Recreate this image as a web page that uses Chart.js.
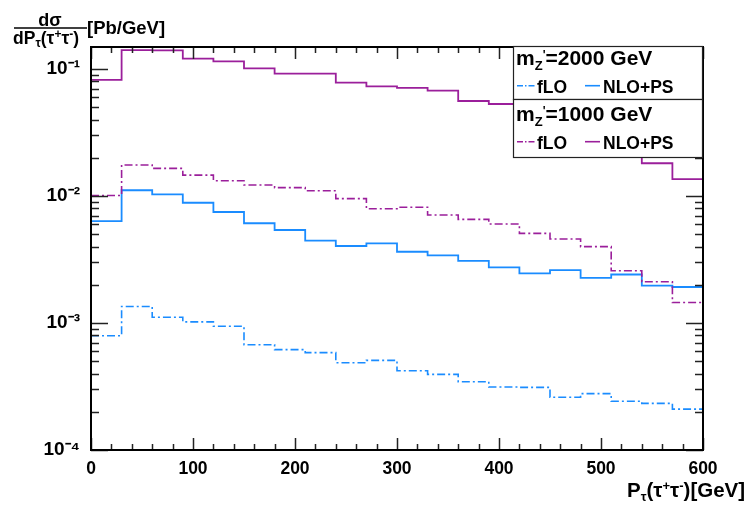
<!DOCTYPE html>
<html>
<head>
<meta charset="utf-8">
<script src="https://cdn.jsdelivr.net/npm/chart.js@4"></script>
<style>
  html, body { margin: 0; padding: 0; background: #fff; }
  #wrap { position: relative; width: 745px; height: 509px; overflow: hidden; }
  #c { position: absolute; left: 0; top: 0; }
  #ov { position: absolute; left: 0; top: 0; }
  svg text { font-family: "Liberation Sans", Arial, Helvetica, sans-serif; font-weight: bold; fill: #000; }
</style>
</head>
<body>
<div id="wrap">
<canvas id="c" width="745" height="509"></canvas>
<svg id="ov" width="745" height="509" xmlns="http://www.w3.org/2000/svg">
  <!-- y-axis title: d sigma / dP_tau(tau+ tau-) [Pb/GeV] -->
  <text x="50" y="25.5" font-size="18" text-anchor="middle">dσ</text>
  <line x1="14" y1="28" x2="87" y2="28" stroke="#000" stroke-width="1.6"/>
  <text x="13" y="44" font-size="17.5">dP<tspan font-size="12" dy="3">τ</tspan><tspan dy="-3">(τ</tspan><tspan font-size="12" dy="-6">+</tspan><tspan dy="6">τ</tspan><tspan font-size="12" dy="-6">-</tspan><tspan dy="6">)</tspan></text>
  <text x="87" y="34" font-size="18.5">[Pb/GeV]</text>
  <!-- x-axis title -->
  <text x="627" y="497" font-size="20.5">P<tspan font-size="13" dy="4">τ</tspan><tspan dy="-4">(τ</tspan><tspan font-size="13" dy="-7">+</tspan><tspan dy="7">τ</tspan><tspan font-size="13" dy="-7">-</tspan><tspan dy="7">)[GeV]</tspan></text>
  <!-- legend -->
  <rect x="513.5" y="46.5" width="189" height="53" fill="#fff" stroke="#222" stroke-width="1.2"/>
  <rect x="513.5" y="99.5" width="189" height="58" fill="#fff" stroke="#222" stroke-width="1.2"/>
  <text x="516" y="65" font-size="21">m<tspan font-size="13" dy="5">Z</tspan><tspan font-size="12" dy="-11">'</tspan><tspan dy="6">=2000 GeV</tspan></text>
  <line x1="517" y1="85.7" x2="535" y2="85.7" stroke="#1a8cff" stroke-width="1.6" stroke-dasharray="6,2,1.5,2"/>
  <text x="537" y="93" font-size="17.5">fLO</text>
  <line x1="585" y1="85.7" x2="600" y2="85.7" stroke="#1a8cff" stroke-width="1.6"/>
  <text x="603" y="93" font-size="17.5">NLO+PS</text>
  <text x="516" y="121" font-size="21">m<tspan font-size="13" dy="5">Z</tspan><tspan font-size="12" dy="-11">'</tspan><tspan dy="6">=1000 GeV</tspan></text>
  <line x1="517" y1="141.7" x2="535" y2="141.7" stroke="#9b1f9b" stroke-width="1.6" stroke-dasharray="6,2,1.5,2"/>
  <text x="537" y="148.5" font-size="17.5">fLO</text>
  <line x1="585" y1="141.7" x2="600" y2="141.7" stroke="#9b1f9b" stroke-width="1.6"/>
  <text x="603" y="148.5" font-size="17.5">NLO+PS</text>
</svg>
</div>
<script>
// ---- data (bin edges in GeV, 30 GeV bins) ----
const binEdges = [0, 30, 60, 90, 120, 150, 180, 210, 240, 270, 300, 330, 360, 390, 420, 450, 480, 510, 540, 570, 600];
const xTickValues = [0, 100, 200, 300, 400, 500, 600];
const yTickDecades = [-4, -3, -2, -1];

// m_Z' = 1000 GeV
const nlops1000 = [0.082, 0.141, 0.140, 0.1205, 0.115, 0.101, 0.092, 0.092, 0.078, 0.073, 0.071, 0.0675, 0.056, 0.053, 0.047, 0.041, 0.034, 0.027, 0.0181, 0.0136];
const flo1000 = [0.0101, 0.01755, 0.0165, 0.0146, 0.0132, 0.0122, 0.01163, 0.0110, 0.00953, 0.00794, 0.00815, 0.00708, 0.00655, 0.00602, 0.00508, 0.00458, 0.00399, 0.00258, 0.00211, 0.00145];
// m_Z' = 2000 GeV
const nlops2000 = [0.00635, 0.0111, 0.0103, 0.00885, 0.00748, 0.0061, 0.0054, 0.00445, 0.00404, 0.00424, 0.00364, 0.00341, 0.00308, 0.00274, 0.00246, 0.00261, 0.00227, 0.00241, 0.00197, 0.00192];
const flo2000 = [0.000794, 0.00135, 0.00111, 0.00102, 0.000942, 0.000675, 0.000617, 0.000584, 0.000487, 0.000508, 0.000421, 0.000394, 0.000345, 0.000313, 0.000311, 0.00026, 0.000278, 0.000242, 0.000233, 0.00021];

const BLUE = '#1a8cff';
const MAG = '#9b1f9b';

function histPoints(vals) {
  const pts = vals.map((v, i) => ({ x: binEdges[i], y: v }));
  pts.push({ x: binEdges[binEdges.length - 1], y: vals[vals.length - 1] });
  return pts;
}

const SUP = { '-': '\u207B', '0': '\u2070', '1': '\u00B9', '2': '\u00B2', '3': '\u00B3', '4': '\u2074', '5': '\u2075' };
function decadeLabel(v) {
  const l = Math.log10(v);
  const r = Math.round(l);
  if (Math.abs(l - r) > 1e-6) return null;
  if (!yTickDecades.includes(r)) return null;
  return '10' + String(r).split('').map(c => SUP[c]).join('');
}

const framePlugin = {
  id: 'rootFrame',
  afterDatasetsDraw(chart) {
    const { ctx, chartArea: { left, right, top, bottom }, scales: { x, y } } = chart;
    ctx.save();
    ctx.strokeStyle = '#222';
    ctx.lineWidth = 1.5;
    ctx.beginPath();
    for (let v = 0; v <= 600; v += 20) {
      const px = Math.round(x.getPixelForValue(v)) + 0.5;
      const len = (v % 100 === 0) ? 12 : 6;
      ctx.moveTo(px, bottom); ctx.lineTo(px, bottom - len);
      ctx.moveTo(px, top); ctx.lineTo(px, top + len);
    }
    for (const k of yTickDecades) {
      for (let m = 1; m <= 9; m++) {
        const val = m * Math.pow(10, k);
        if (val > y.max || val < y.min) continue;
        const py = Math.round(y.getPixelForValue(val)) + 0.5;
        const len = (m === 1) ? 17 : 8;
        ctx.moveTo(left, py); ctx.lineTo(left + len, py);
        ctx.moveTo(right, py); ctx.lineTo(right - len, py);
      }
    }
    ctx.stroke();
    ctx.strokeStyle = '#000';
    ctx.lineWidth = 2;
    ctx.strokeRect(left, top, right - left, bottom - top);
    ctx.restore();
  }
};

const fontFam = '"Liberation Sans", Arial, Helvetica, sans-serif';

new Chart(document.getElementById('c'), {
  type: 'line',
  data: {
    datasets: [
      { label: 'NLO+PS (1000)', data: histPoints(nlops1000), borderColor: MAG, borderWidth: 1.8, stepped: true, pointRadius: 0, fill: false },
      { label: 'fLO (1000)', data: histPoints(flo1000), borderColor: MAG, borderWidth: 1.6, borderDash: [8, 3, 2, 3], stepped: true, pointRadius: 0, fill: false },
      { label: 'NLO+PS (2000)', data: histPoints(nlops2000), borderColor: BLUE, borderWidth: 1.8, stepped: true, pointRadius: 0, fill: false },
      { label: 'fLO (2000)', data: histPoints(flo2000), borderColor: BLUE, borderWidth: 1.6, borderDash: [8, 3, 2, 3], stepped: true, pointRadius: 0, fill: false }
    ]
  },
  options: {
    responsive: false,
    animation: false,
    devicePixelRatio: 1,
    layout: { padding: { top: 47, right: 42, left: 0, bottom: 0 } },
    plugins: { legend: { display: false }, tooltip: { enabled: false }, title: { display: false } },
    scales: {
      x: {
        type: 'linear',
        min: 0, max: 600,
        afterBuildTicks(scale) { scale.ticks = xTickValues.map(v => ({ value: v })); },
        afterFit(scale) { scale.height = 59; },
        grid: { display: false, drawTicks: false },
        border: { display: false },
        ticks: {
          color: '#000',
          padding: 9,
          maxRotation: 0,
          autoSkip: false,
          font: { family: fontFam, weight: 'bold', size: 17.5 },
          callback: v => String(v)
        }
      },
      y: {
        type: 'logarithmic',
        min: 1e-4, max: 0.149,
        afterBuildTicks(scale) { scale.ticks = yTickDecades.map(k => ({ value: Math.pow(10, k) })); },
        afterFit(scale) { scale.width = 91; },
        grid: { display: false, drawTicks: false },
        border: { display: false },
        ticks: {
          color: '#000',
          padding: 11,
          autoSkip: false,
          font: { family: fontFam, weight: 'bold', size: 19 },
          callback: v => decadeLabel(v)
        }
      }
    }
  },
  plugins: [framePlugin]
});
</script>
</body>
</html>
